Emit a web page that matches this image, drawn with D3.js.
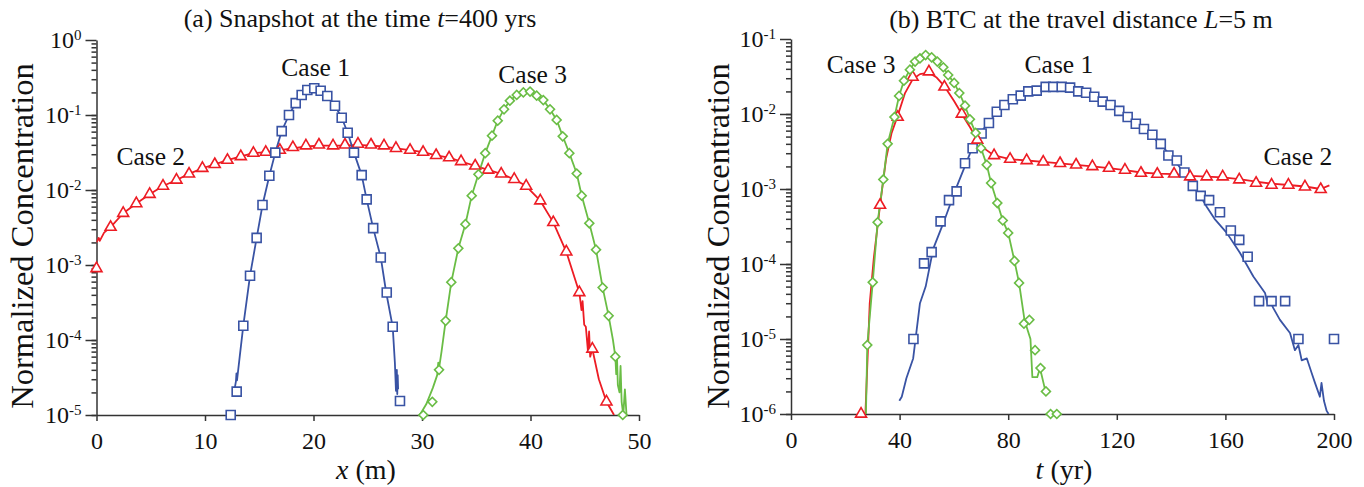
<!DOCTYPE html>
<html>
<head>
<meta charset="utf-8">
<title>Snapshot and BTC</title>
<style>
body {
	margin: 0;
	background: white;
}
svg {
	display: block;
}
text {
	font-family: "Liberation Serif", "Times New Roman", Times, serif;
}
.axis path, .axis line {
	stroke: #333;
	stroke-width: 1.5px;
}
.axis text {
	font-size: 24px;
	fill: #111;
}
.line {
	fill: none;
	stroke-width: 1.8px;
	stroke-linejoin: round;
}
.mark {
	fill: white;
	stroke-width: 1.6px;
}
.label {
	font-size: 25.5px;
	fill: #111;
}
</style>
</head>
<body>
<svg id="chart" width="1364" height="487"></svg>

<script src="https://cdn.jsdelivr.net/npm/d3@7"></script>
<script>

// ---- (a) snapshot at t = 400 yrs : [x (m), C] ----
var aCase1Marks = [[12.37,1e-5],[12.92,2.05e-5],[13.53,1.55e-4],[14.15,7.2e-4],[14.76,0.0023],[15.3,0.0063],[15.93,0.0155],[16.48,0.0315],[17.07,0.061],[17.74,0.1],[18.36,0.144],[18.91,0.185],[19.43,0.215],[20.07,0.227],[20.66,0.211],[21.27,0.179],[21.98,0.133],[22.6,0.092],[23.15,0.058],[23.73,0.0315],[24.44,0.0158],[24.9,0.0075],[25.5,0.0031],[26.2,0.00126],[26.75,0.00043],[27.3,1.5e-4],[27.97,1.54e-5]];
var aCase1Line = [[12.7,2.1e-5],[12.85,2.8e-5],[12.9,3.6e-5],[12.95,2.9e-5],[13.2,6e-5],[13.53,1.55e-4],[14.15,7.2e-4],[14.76,0.0023],[15.3,0.0063],[15.93,0.0155],[16.48,0.0315],[17.07,0.061],[17.74,0.1],[18.36,0.144],[18.91,0.185],[19.43,0.215],[20.07,0.227],[20.66,0.211],[21.27,0.179],[21.98,0.133],[22.6,0.092],[23.15,0.058],[23.73,0.0315],[24.44,0.0158],[24.9,0.0075],[25.5,0.0031],[26.2,0.00126],[26.7,0.00043],[27.3,0.00015],[27.5,5e-5],[27.6,2.1e-5],[27.68,4e-5],[27.72,1.9e-5],[27.76,3.4e-5],[27.8,2.2e-5]];

var aCase2Marks = [[0,0.0009],[1.3,0.0032],[2.46,0.0049],[3.67,0.0066],[4.9,0.0088],[6.13,0.0113],[7.37,0.0136],[8.53,0.0164],[9.76,0.0195],[10.9,0.022],[12.07,0.025],[13.3,0.028],[14.46,0.031],[15.6,0.032],[16.9,0.034],[18.1,0.037],[19.3,0.039],[20.5,0.04],[21.8,0.039],[22.9,0.04],[24.1,0.041],[25.3,0.04],[26.5,0.039],[27.6,0.036],[28.9,0.034],[30.1,0.032],[31.3,0.029],[32.5,0.027],[33.6,0.024],[34.9,0.021],[36.1,0.0185],[37.3,0.0164],[38.5,0.0139],[39.6,0.0113],[40.9,0.0072],[42.1,0.0037],[43.3,0.0015],[44.5,0.00043],[45.7,7.6e-5],[47.0,1.5e-5]];
var aCase2Line = [[0,0.002],[0.2,0.0023],[0.3,0.0021],[0.7,0.0027],[1.3,0.0032],[2.46,0.0049],[3.67,0.0066],[4.9,0.0088],[6.13,0.0113],[7.37,0.0136],[8.53,0.0164],[9.76,0.0195],[10.9,0.022],[12.07,0.025],[13.3,0.028],[14.46,0.031],[15.6,0.032],[16.9,0.034],[18.1,0.036],[19.3,0.038],[20.5,0.039],[21.8,0.039],[22.9,0.039],[24.1,0.04],[25.3,0.039],[26.5,0.038],[27.6,0.036],[28.9,0.034],[30.1,0.032],[31.3,0.029],[32.5,0.027],[33.6,0.024],[34.9,0.021],[36.1,0.0185],[37.3,0.0164],[38.5,0.0139],[39.6,0.0113],[40.9,0.0072],[42.1,0.0037],[43.3,0.0015],[44.5,0.00043],[44.7,0.00025],[44.8,0.00033],[44.95,0.00016],[45.1,0.00015],[45.3,7e-5],[45.4,0.00013],[45.5,6e-5],[45.7,7.6e-5],[46.3,3e-5],[47.0,1.5e-5],[47.7,1e-5]];

var aCase3Marks = [[30.12,1e-5],[30.95,1.5e-5],[31.57,4e-5],[32.18,1.8e-4],[32.7,5.9e-4],[33.35,0.00167],[34.0,0.0035],[34.58,0.0084],[35.2,0.0162],[35.83,0.031],[36.45,0.053],[36.98,0.084],[37.56,0.119],[38.1,0.155],[38.73,0.185],[39.34,0.2],[39.96,0.205],[40.57,0.181],[41.18,0.158],[41.8,0.119],[42.41,0.086],[42.97,0.052],[43.58,0.031],[44.26,0.0166],[44.72,0.0084],[45.42,0.0036],[46.04,0.0016],[46.65,0.0005],[47.2,0.00021],[47.82,6e-5],[48.5,1e-5]];
var aCase3Line = [[29.8,1e-5],[30.4,1.4e-5],[31.0,2.3e-5],[31.4,3.4e-5],[31.5,5e-5],[31.55,4e-5],[31.8,7e-5],[32.18,1.8e-4],[32.7,5.9e-4],[33.35,0.00167],[34.0,0.0035],[34.58,0.0084],[35.2,0.0162],[35.83,0.031],[36.45,0.053],[36.98,0.084],[37.56,0.119],[38.1,0.155],[38.73,0.185],[39.34,0.2],[39.96,0.205],[40.57,0.181],[41.18,0.158],[41.8,0.119],[42.41,0.086],[42.97,0.052],[43.58,0.031],[44.26,0.0166],[44.72,0.0084],[45.42,0.0036],[46.04,0.0016],[46.65,0.0005],[47.2,0.00021],[47.6,0.0001],[47.82,6e-5],[47.9,3.5e-5],[47.97,6e-5],[48.05,2.5e-5],[48.2,2e-5],[48.3,4.5e-5],[48.4,1.5e-5],[48.55,1e-5],[48.7,2.2e-5],[48.85,1e-5]];

// ---- (b) BTC at L = 5 m : [t (yr), C] ----
var bCase1Marks = [[45.1,1e-5],[49.0,1.02e-4],[51.8,1.44e-4],[55.1,3.7e-4],[58.2,7.1e-4],[61.0,9.3e-4],[64.1,0.0022],[66.9,0.0035],[70.2,0.0055],[72.9,0.0076],[75.8,0.0107],[78.6,0.0132],[81.7,0.0157],[84.6,0.0176],[87.4,0.02],[90.5,0.0205],[93.8,0.023],[96.6,0.023],[99.7,0.023],[102.8,0.0225],[105.8,0.02],[108.7,0.0192],[111.7,0.017],[114.8,0.0146],[117.7,0.0132],[120.9,0.011],[124.0,0.0091],[127.0,0.0074],[130.0,0.0063],[133.1,0.0053],[136.2,0.004],[139.0,0.0028],[142.1,0.0024],[144.9,0.00166],[148.0,0.0011],[150.9,8.1e-4],[154.0,7.1e-4],[158.0,4.9e-4],[162.0,2.8e-4],[165.1,2.1e-4],[168.2,1.25e-4],[172.4,3.2e-5],[177.0,3.2e-5],[182.0,3.2e-5],[186.9,1e-5],[200.0,1e-5]];
var bCase1Line = [[39.9,1.5e-6],[40.8,1.7e-6],[42.5,3e-6],[45.0,5.5e-6],[47.5,3e-5],[49.6,5e-5],[52.4,1.6e-4],[56.1,3.5e-4],[61.0,0.00107],[64.7,0.0023],[68.4,0.005],[72.9,0.0076],[75.8,0.0107],[78.6,0.0132],[81.7,0.0157],[84.6,0.0176],[87.4,0.0195],[90.5,0.021],[93.8,0.022],[96.6,0.0225],[99.7,0.0225],[102.8,0.0218],[105.8,0.0205],[108.7,0.019],[111.7,0.017],[114.8,0.015],[117.7,0.013],[120.9,0.011],[124.0,0.0091],[127.0,0.0075],[130.0,0.0063],[133.1,0.005],[136.2,0.0039],[139.0,0.003],[142.1,0.0022],[144.9,0.0016],[148.0,0.0011],[150.9,8e-4],[153.1,5.8e-4],[156.0,4e-4],[160.5,2.6e-4],[165.4,1.4e-4],[170.3,6.8e-5],[174.6,4.1e-5],[175.5,3e-5],[175.9,3.6e-5],[177.6,2.6e-5],[180.1,1.8e-5],[183.8,1.2e-5],[185.6,7.1e-6],[186.9,8.3e-6],[188.1,5.2e-6],[190.0,5.5e-6],[191.8,3.5e-6],[193.0,2.6e-6],[194.8,1.7e-6],[195.4,2.6e-6],[196.3,1.5e-6],[197.3,1.1e-6],[198.0,1e-6]];

var bCase2Marks = [[25.8,1e-6],[32.8,6.1e-4],[39.3,0.0091],[44.8,0.031],[50.8,0.0366],[56.5,0.023],[62.9,0.01],[68.6,0.0045],[74.8,0.0028],[80.7,0.0025],[86.8,0.0024],[92.9,0.0023],[99.1,0.0022],[105.0,0.0021],[111.0,0.002],[117.1,0.0019],[123.0,0.00179],[128.9,0.00163],[134.9,0.00158],[141.1,0.00159],[147.0,0.00146],[153.1,0.00146],[159.0,0.00146],[165.1,0.00133],[171.3,0.0012],[177.0,0.00113],[183.2,0.00113],[189.3,0.00107],[195.1,0.00099]];
var bCase2Line = [[27.4,1e-6],[29.0,3e-5],[30.5,1.2e-4],[32.8,6.1e-4],[35.0,0.0025],[37.0,0.0055],[39.3,0.0095],[42.0,0.019],[44.8,0.029],[47.5,0.034],[50.8,0.0355],[53.5,0.031],[56.5,0.0235],[60.0,0.015],[62.9,0.01],[66.0,0.0066],[68.6,0.0045],[71.5,0.0034],[74.8,0.0028],[80.7,0.0025],[86.8,0.0024],[92.9,0.0023],[99.1,0.0022],[105.0,0.0021],[111.0,0.002],[117.1,0.0019],[123.0,0.00178],[128.9,0.00166],[134.9,0.0016],[141.1,0.00158],[147.0,0.0015],[153.1,0.00146],[159.0,0.00143],[165.1,0.00135],[171.3,0.00125],[177.0,0.00118],[183.2,0.00113],[189.3,0.00108],[195.1,0.001],[198.3,0.00112]];

var bCase3Marks = [[28.1,8.3e-6],[30.1,5.7e-5],[31.9,3.6e-4],[34.0,0.00134],[35.6,0.004],[38.1,0.0091],[39.8,0.0174],[41.6,0.0278],[43.8,0.039],[45.7,0.05],[47.5,0.055],[49.6,0.061],[51.8,0.057],[53.9,0.05],[56.1,0.042],[57.9,0.033],[60.1,0.026],[62.0,0.019],[64.1,0.0129],[65.9,0.0085],[68.0,0.0056],[70.0,0.0035],[72.1,0.0021],[73.7,0.0012],[76.0,6.5e-4],[78.0,3.8e-4],[80.0,2.6e-4],[82.3,1.1e-4],[84.0,5.6e-5],[85.8,1.6e-5],[87.8,1.8e-5],[89.9,7.1e-6],[91.9,4.1e-6],[93.9,2e-6],[95.6,1e-6],[97.9,1e-6]];
var bCase3Line = [[27.6,1e-6],[28.1,8.3e-6],[30.1,5.7e-5],[31.9,3.6e-4],[34.0,0.00134],[35.6,0.004],[38.1,0.0091],[39.8,0.0174],[41.6,0.0278],[43.8,0.039],[45.7,0.05],[47.5,0.055],[49.6,0.06],[51.8,0.057],[53.9,0.05],[56.1,0.042],[57.9,0.033],[60.1,0.026],[62.0,0.019],[64.1,0.0129],[65.9,0.0085],[68.0,0.0056],[70.0,0.0035],[72.1,0.0021],[73.7,0.0012],[76.0,6.5e-4],[78.0,3.8e-4],[80.0,2.6e-4],[82.3,1.1e-4],[84.0,5.6e-5],[86.0,1.8e-5],[87.2,1.3e-5],[88.2,1e-5],[88.9,3.1e-6],[90.7,3.1e-6],[91.7,4.1e-6],[93.6,2.1e-6]];

// ticks and annotations
var aXTicks = [0, 10, 20, 30, 40, 50];
var bXTicks = [0, 40, 80, 120, 160, 200];
var aYExponents = [0, -1, -2, -3, -4, -5];
var bYExponents = [-1, -2, -3, -4, -5, -6];
var aCaseLabels = [["Case 1", 20.2, 0.33], ["Case 2", 5.0, 0.0215], ["Case 3", 40.2, 0.267]];
var bCaseLabels = [["Case 3", 25.8, 0.0352], ["Case 1", 98.7, 0.0352], ["Case 2", 186.7, 0.0021]];

var blue = "#3953a4", red = "#ed1c24", green = "#6abd45";

var svg = d3.select("#chart");

var panels = [
	{ id: "a", left: 96.5, top: 40, width: 542.5, height: 375,
	  xDomain: [0, 50], xTicks: aXTicks, yExp: aYExponents, labels: aCaseLabels,
	  series: [
		{ line: aCase2Line, marks: aCase2Marks, color: red, shape: "triangle" },
		{ line: aCase1Line, marks: aCase1Marks, color: blue, shape: "square" },
		{ line: aCase3Line, marks: aCase3Marks, color: green, shape: "diamond" }
	  ] },
	{ id: "b", left: 791, top: 39, width: 543, height: 375,
	  xDomain: [0, 200], xTicks: bXTicks, yExp: bYExponents, labels: bCaseLabels,
	  series: [
		{ line: bCase1Line, marks: bCase1Marks, color: blue, shape: "square" },
		{ line: bCase2Line, marks: bCase2Marks, color: red, shape: "triangle" },
		{ line: bCase3Line, marks: bCase3Marks, color: green, shape: "diamond" }
	  ] }
];

var symbols = {
	square: d3.symbol().type(d3.symbolSquare).size(81)(),
	triangle: d3.symbol().type(d3.symbolTriangle).size(52)(),
	diamond: d3.symbol().type(d3.symbolSquare).size(40)()
};

panels.forEach(function(p) {
	var x = d3.scaleLinear().domain(p.xDomain).range([0, p.width]);
	var yMin = Math.pow(10, d3.min(p.yExp)), yMax = Math.pow(10, d3.max(p.yExp));
	var y = d3.scaleLog().domain([yMin, yMax]).range([p.height, 0]);

	var g = svg.append("g")
	    .attr("transform", "translate(" + p.left + "," + p.top + ")");

	g.append("clipPath")
	    .attr("id", "clip-" + p.id)
	  .append("rect")
	    .attr("x", 0).attr("y", 0)
	    .attr("width", p.width + 4).attr("height", p.height);

	// minor ticks
	var minor = [];
	p.yExp.forEach(function(e) {
		if (e === d3.min(p.yExp)) return;
		for (var k = 1; k < 10; k++) minor.push(k * Math.pow(10, e - 1));
	});
	g.append("g")
	    .attr("class", "axis")
	    .call(d3.axisLeft(y).tickValues(minor).tickSize(5).tickFormat(""))
	    .call(function(s) { s.select(".domain").remove(); });

	var yAxis = g.append("g")
	    .attr("class", "axis")
	    .call(d3.axisLeft(y)
	        .tickValues(p.yExp.map(function(e) { return Math.pow(10, e); }))
	        .tickSize(11).tickSizeOuter(0).tickPadding(4)
	        .tickFormat(""));
	yAxis.attr("font-family", null).attr("font-size", null);
	yAxis.selectAll(".tick text").each(function(d) {
		var t = d3.select(this);
		t.attr("dy", "0.32em");
		t.append("tspan").text("10");
		t.append("tspan")
		    .attr("dy", -8)
		    .style("font-size", "15px")
		    .text(String(Math.round(Math.log10(d))).replace("\u2212", "-"));
	});

	var xAxis = g.append("g")
	    .attr("class", "axis")
	    .attr("transform", "translate(0," + p.height + ")")
	    .call(d3.axisBottom(x).tickValues(p.xTicks).tickSize(6).tickSizeOuter(0).tickPadding(11));
	xAxis.attr("font-family", null).attr("font-size", null);

	var line = d3.line()
	    .x(function(d) { return x(d[0]); })
	    .y(function(d) { return y(Math.max(d[1], yMin * 0.5)); });

	var plot = g.append("g");
	p.series.forEach(function(s) {
		plot.append("path")
		    .datum(s.line)
		    .attr("class", "line")
		    .attr("clip-path", "url(#clip-" + p.id + ")")
		    .attr("stroke", s.color)
		    .attr("d", line);
	});
	p.series.forEach(function(s) {
		plot.selectAll(null)
		    .data(s.marks)
		  .enter().append("path")
		    .attr("class", "mark")
		    .attr("stroke", s.color)
		    .attr("d", symbols[s.shape])
		    .attr("transform", function(d) {
		    	var r = s.shape === "diamond" ? " rotate(45)" : "";
		    	return "translate(" + x(d[0]) + "," + y(d[1]) + ")" + r;
		    });
	});

	g.selectAll(".case")
	    .data(p.labels)
	  .enter().append("text")
	    .attr("class", "label")
	    .attr("text-anchor", "middle")
	    .attr("x", function(d) { return x(d[1]); })
	    .attr("y", function(d) { return y(d[2]); })
	    .text(function(d) { return d[0]; });
});

// titles and axis titles
function title(xPos, yPos, parts, size) {
	var t = svg.append("text")
	    .attr("x", xPos).attr("y", yPos)
	    .attr("text-anchor", "middle")
	    .style("font-size", size + "px")
	    .attr("fill", "#111");
	parts.forEach(function(pt) {
		t.append("tspan").style("font-style", pt[1] ? "italic" : "normal").text(pt[0]);
	});
	return t;
}

title(360, 27, [["(a) Snapshot at the time ", false], ["t", true], ["=400 yrs", false]], 26);
title(1081, 28, [["(b) BTC at the travel distance ", false], ["L", true], ["=5 m", false]], 26);
title(366, 479, [["x", true], [" (m)", false]], 28);
title(1064, 479, [["t", true], [" (yr)", false]], 28);

svg.append("text")
    .attr("transform", "translate(33,236) rotate(-90)")
    .attr("text-anchor", "middle")
    .style("font-size", "32.5px")
    .attr("fill", "#111")
    .text("Normalized Concentration");
svg.append("text")
    .attr("transform", "translate(729,236) rotate(-90)")
    .attr("text-anchor", "middle")
    .style("font-size", "32.5px")
    .attr("fill", "#111")
    .text("Normalized Concentration");

</script>
</body>
</html>
